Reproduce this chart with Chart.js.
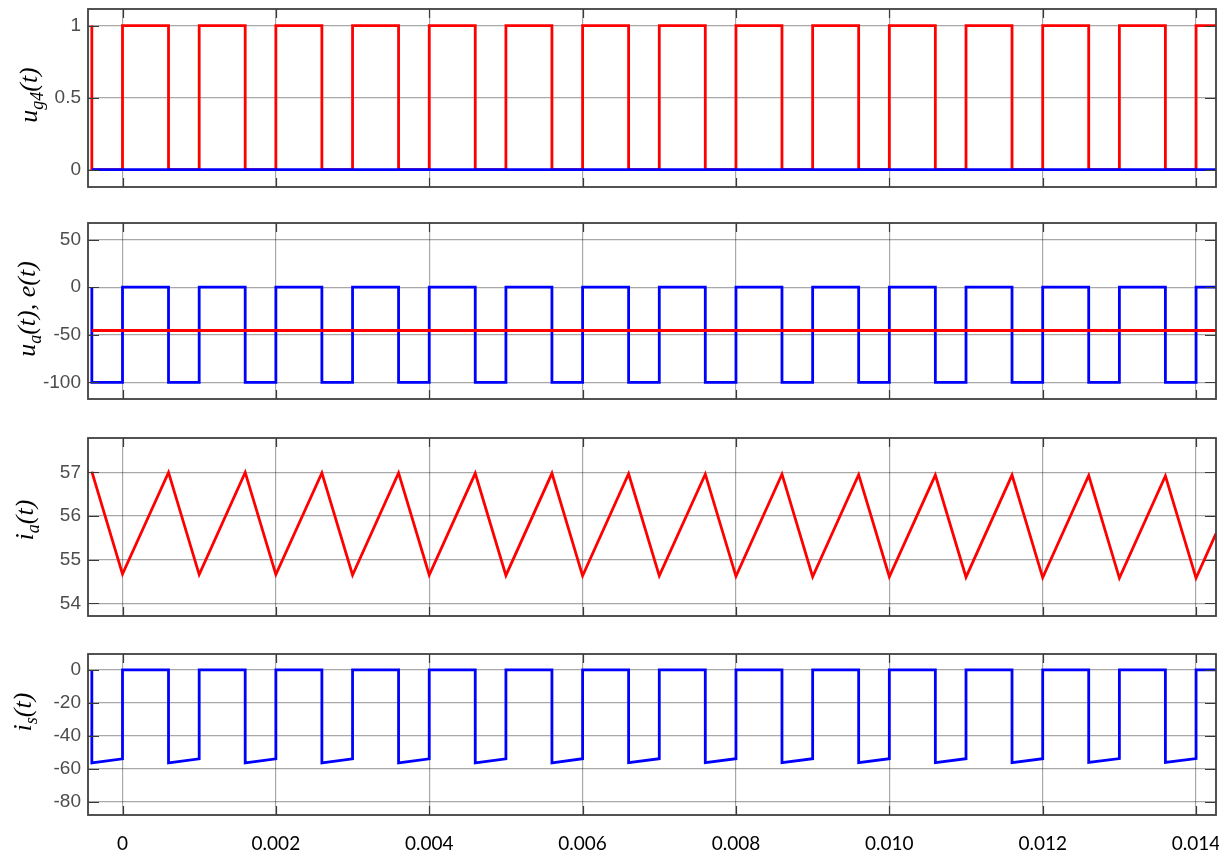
<!DOCTYPE html>
<html>
<head>
<meta charset="utf-8">
<script src="https://cdn.jsdelivr.net/npm/chart.js@4.4.0/dist/chart.umd.min.js"></script>
<style>
  html, body { margin: 0; padding: 0; background: #fff; }
  #wrap { position: relative; width: 1219px; height: 853px; overflow: hidden; }
  .panel { position: absolute; left: 0; }
</style>
</head>
<body>
<div id="wrap"></div>
<script>
// switching instants (s)
const riseT = [0, 0.001, 0.002, 0.003, 0.004, 0.005, 0.006, 0.007, 0.008, 0.009, 0.010, 0.011, 0.012, 0.013, 0.014];
const fallT = [-0.0004, 0.0006, 0.0016, 0.0026, 0.0036, 0.0046, 0.0056, 0.0066, 0.0076, 0.0086, 0.0096, 0.0106, 0.0116, 0.0126, 0.0136];
const tEnd = 0.01426;

// levels
const ugLevels = [0, 1];        // low, high
const udLevels = [-100, 0];     // low, high
const eLevel = -45.5;

// armature current at the switching instants
const idPeak = [57.02, 57.0, 57.0, 56.99, 56.99, 56.98, 56.98, 56.97, 56.96, 56.96, 56.95, 56.94, 56.94, 56.93, 56.92];
const idTrough = [54.67, 54.66, 54.66, 54.65, 54.65, 54.64, 54.63, 54.63, 54.62, 54.61, 54.61, 54.60, 54.59, 54.58, 54.58];
const idEnd = 55.6;

// source current during off interval
const isStart = [-56.4, -56.4, -56.4, -56.4, -56.4, -56.4, -56.4, -56.3, -56.3, -56.3, -56.3, -56.3, -56.3, -56.2, -56.2];
const isEnd = [-54.0, -54.0, -54.0, -54.0, -54.0, -54.0, -53.9, -53.9, -53.9, -53.9, -53.9, -53.9, -53.9, -53.8, -53.8];

// axes
const xTicks = [0, 0.002, 0.004, 0.006, 0.008, 0.010, 0.012, 0.014];
const xTickLabels = ['0', '0.002', '0.004', '0.006', '0.008', '0.010', '0.012', '0.014'];
const xMin = -0.00045, xMax = 0.01426;

const y1Ticks = [0, 0.5, 1];
const y2Ticks = [-100, -50, 0, 50];
const y3Ticks = [54, 55, 56, 57];
const y4Ticks = [-80, -60, -40, -20, 0];

// build step / piecewise series
function gateSeries(levels) {
    const pts = [];
    for (let i = 0; i < fallT.length; i++) {
        pts.push({x: fallT[i], y: levels[1]}, {x: fallT[i], y: levels[0]});
        pts.push({x: riseT[i], y: levels[0]}, {x: riseT[i], y: levels[1]});
    }
    pts.push({x: tEnd, y: levels[1]});
    return pts;
}
function constSeries(v) {
    return [{x: fallT[0], y: v}, {x: tEnd, y: v}];
}
function idSeries() {
    const pts = [];
    for (let i = 0; i < fallT.length; i++) {
        pts.push({x: fallT[i], y: idPeak[i]});
        pts.push({x: riseT[i], y: idTrough[i]});
    }
    pts.push({x: tEnd, y: idEnd});
    return pts;
}
function isSeries() {
    const pts = [];
    for (let i = 0; i < fallT.length; i++) {
        pts.push({x: fallT[i], y: 0}, {x: fallT[i], y: isStart[i]});
        pts.push({x: riseT[i], y: isEnd[i]}, {x: riseT[i], y: 0});
    }
    pts.push({x: tEnd, y: 0});
    return pts;
}

const RED = '#ff0000', BLUE = '#0000ff';

// box, inward ticks and y label
const framePlugin = {
    id: 'frame',
    afterDraw(chart, args, opts) {
        const ctx = chart.ctx;
        const a = chart.chartArea;
        const xs = chart.scales.x, ys = chart.scales.y;
        ctx.save();
        ctx.strokeStyle = '#3a3a3a';
        ctx.lineWidth = 1.2;
        ctx.beginPath();
        xTicks.forEach(t => {
            const px = Math.round(xs.getPixelForValue(t)) + 0.5;
            ctx.moveTo(px, a.bottom); ctx.lineTo(px, a.bottom - 9);
            ctx.moveTo(px, a.top); ctx.lineTo(px, a.top + 9);
        });
        opts.yTicks.forEach(v => {
            const py = Math.round(ys.getPixelForValue(v)) + 0.5;
            ctx.moveTo(a.left, py); ctx.lineTo(a.left + 11, py);
            ctx.moveTo(a.right, py); ctx.lineTo(a.right - 11, py);
        });
        ctx.stroke();
        ctx.lineWidth = 1.8;
        ctx.strokeStyle = '#404040';
        ctx.strokeRect(a.left, a.top, a.right - a.left, a.bottom - a.top);

        // rotated axis label with subscript
        const big = 'italic 26px "Liberation Serif", "DejaVu Serif", serif';
        const small = 'italic 18px "Liberation Serif", "DejaVu Serif", serif';
        let total = 0;
        opts.parts.forEach(p => {
            ctx.font = p[1] ? small : big;
            total += ctx.measureText(p[0]).width;
        });
        ctx.translate(opts.lx, opts.ly - chart.canvas.offsetTop);
        ctx.rotate(-Math.PI / 2);
        ctx.fillStyle = '#000';
        ctx.textBaseline = 'alphabetic';
        let cx = -total / 2;
        opts.parts.forEach(p => {
            ctx.font = p[1] ? small : big;
            ctx.fillText(p[0], cx, p[1] ? 6 : 0);
            cx += ctx.measureText(p[0]).width;
        });
        ctx.restore();
    }
};

const panels = [
    {top: 9, bottom: 187, yMin: -0.12, yMax: 1.115, yTicks: y1Ticks,
     fmt: v => String(v),
     parts: [['u', 0], ['g4', 1], ['(t)', 0]], lx: 37, ly: 95,
     datasets: [
        {data: gateSeries(ugLevels), borderColor: RED, order: 1},
        {data: constSeries(ugLevels[0]), borderColor: BLUE, order: 0}
     ]},
    {top: 223, bottom: 399, yMin: -117.5, yMax: 67.5, yTicks: y2Ticks,
     fmt: v => String(v),
     parts: [['u', 0], ['a', 1], ['(t), e(t)', 0]], lx: 35, ly: 309,
     datasets: [
        {data: gateSeries(udLevels), borderColor: BLUE, order: 1},
        {data: constSeries(eLevel), borderColor: RED, order: 0}
     ]},
    {top: 438, bottom: 616, yMin: 53.71, yMax: 57.79, yTicks: y3Ticks,
     fmt: v => String(v),
     parts: [['i', 0], ['a', 1], ['(t)', 0]], lx: 33, ly: 520,
     datasets: [
        {data: idSeries(), borderColor: RED, order: 0}
     ]},
    {top: 654, bottom: 815, yMin: -88.1, yMax: 9.7, yTicks: y4Ticks,
     fmt: v => String(v),
     parts: [['i', 0], ['s', 1], ['(t)', 0]], lx: 31, ly: 712,
     datasets: [
        {data: isSeries(), borderColor: BLUE, order: 0}
     ]}
];

const wrap = document.getElementById('wrap');
const PAD = 6;

panels.forEach((p, idx) => {
    const last = idx === panels.length - 1;
    const cTop = p.top - PAD;
    const cHeight = last ? 853 - cTop : (p.bottom - p.top) + 2 * PAD;
    const canvas = document.createElement('canvas');
    canvas.className = 'panel';
    canvas.style.top = cTop + 'px';
    canvas.width = 1219;
    canvas.height = cHeight;
    canvas.style.width = '1219px';
    canvas.style.height = cHeight + 'px';
    wrap.appendChild(canvas);

    p.datasets.forEach(d => {
        d.borderWidth = 2.8;
        d.pointRadius = 0;
        d.tension = 0;
        d.fill = false;
    });

    new Chart(canvas.getContext('2d'), {
        type: 'line',
        data: {datasets: p.datasets},
        options: {
            responsive: false,
            animation: false,
            parsing: false,
            layout: {padding: {top: PAD, bottom: last ? 0 : PAD, left: 0, right: 3}},
            plugins: {
                legend: {display: false},
                tooltip: {enabled: false},
                frame: {yTicks: p.yTicks, parts: p.parts, lx: p.lx, ly: p.ly}
            },
            scales: {
                x: {
                    type: 'linear',
                    min: xMin,
                    max: xMax,
                    afterBuildTicks: s => { s.ticks = xTicks.map(v => ({value: v})); },
                    afterFit: s => {
                        s.height = last ? 853 - p.bottom : 0;
                        s.paddingLeft = 0; s.paddingRight = 0;
                    },
                    grid: {color: 'rgba(0,0,0,0.34)', lineWidth: 1.2, drawTicks: false},
                    border: {display: false},
                    ticks: {
                        display: last,
                        padding: 17,
                        maxRotation: 0,
                        autoSkip: false,
                        color: '#000',
                        font: {family: 'Lato, "Open Sans", sans-serif', size: 19},
                        callback: (v) => {
                            const i = xTicks.findIndex(t => Math.abs(t - v) < 1e-9);
                            return i >= 0 ? xTickLabels[i] : '';
                        }
                    }
                },
                y: {
                    min: p.yMin,
                    max: p.yMax,
                    afterBuildTicks: s => { s.ticks = p.yTicks.map(v => ({value: v})); },
                    afterFit: s => {
                        s.width = 88;
                        s.paddingTop = 0; s.paddingBottom = 0;
                    },
                    grid: {color: 'rgba(0,0,0,0.34)', lineWidth: 1.2, drawTicks: false},
                    border: {display: false},
                    ticks: {
                        padding: 7,
                        color: '#4d4d4d',
                        font: {family: '"Liberation Sans", Arial, sans-serif', size: 19},
                        callback: p.fmt
                    }
                }
            }
        },
        plugins: [framePlugin]
    });
});
</script>
</body>
</html>
